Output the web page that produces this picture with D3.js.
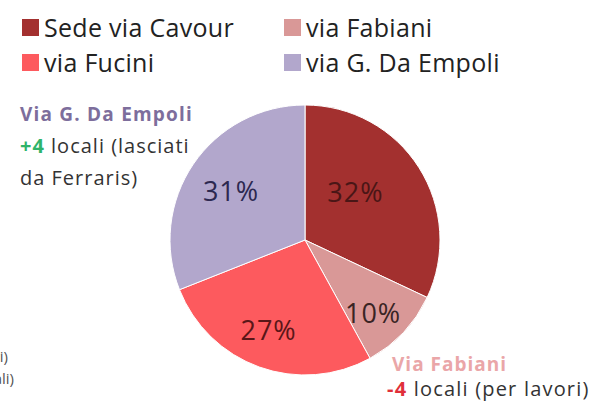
<!doctype html>
<head>
  <meta charset="utf-8">
  <title>Sedi</title>
  <script src="https://d3js.org/d3.v7.min.js"></script>
</head>
<style>
  body { margin: 0; background: #fff; }
  text { font-family: "Open Sans", "Noto Sans", sans-serif; }
</style>
<body>
<div id="chart"></div>
<script>
// data
var sedi = ["Sede via Cavour", "via Fabiani", "via Fucini", "via G. Da Empoli"];
var quote = [32, 10, 27, 31];
var colori = ["#a3302f", "#d99897", "#fd5a5e", "#b2a7cc"];
var coloriLabel = ["#4a1616", "#3a2424", "#5a1618", "#2c2850"];

var width = 597, height = 406;
var svg = d3.select("#chart").append("svg")
    .attr("width", width)
    .attr("height", height);

// legend
var legendPos = [[22, 19], [284, 19], [22, 54], [284, 54]];
var leg = svg.selectAll(".leg").data(sedi).enter().append("g")
    .attr("transform", function(d, i) { return "translate(" + legendPos[i][0] + "," + legendPos[i][1] + ")"; });
leg.append("rect").attr("width", 17).attr("height", 17)
    .attr("fill", function(d, i) { return colori[i]; });
leg.append("text").attr("x", 22).attr("y", 18)
    .style("font-size", "25px").style("letter-spacing", "0.3px").style("fill", "#222")
    .text(function(d) { return d; });

// pie
var cx = 305, cy = 240, r = 135;
var pie = d3.pie().sort(null).value(function(d) { return d; });
var arc = d3.arc().innerRadius(0).outerRadius(r);
var labelArc = d3.arc().innerRadius(r * 0.6).outerRadius(r * 0.6);
// small nudges of the percentage labels (best-fit placement in the original)
var spost = [[-18, -4], [9, 18], [-9, 14], [-7, -3]];
var g = svg.append("g").attr("transform", "translate(" + cx + "," + cy + ")");
var arcs = pie(quote);
g.selectAll("path").data(arcs).enter().append("path")
    .attr("d", arc)
    .attr("fill", function(d, i) { return colori[i]; })
    .attr("stroke", "#fff")
    .attr("stroke-width", 1);
g.selectAll(".pct").data(arcs).enter().append("text")
    .attr("transform", function(d, i) {
      var c = labelArc.centroid(d);
      return "translate(" + (c[0] + spost[i][0]) + "," + (c[1] + spost[i][1]) + ")";
    })
    .attr("text-anchor", "middle")
    .attr("dy", "0.35em")
    .style("font-size", "27px")
    .style("letter-spacing", "1px")
    .style("fill", function(d, i) { return coloriLabel[i]; })
    .text(function(d) { return d.data + "%"; });

// annotations
var ann1 = svg.append("text").style("font-size", "20px").style("letter-spacing", "1px").style("fill", "#333");
ann1.append("tspan").attr("x", 20).attr("y", 121)
    .style("font-size", "19px").style("font-weight", "bold").style("letter-spacing", "1.2px")
    .style("fill", "#7d6e9c").text("Via G. Da Empoli");
var l2 = ann1.append("tspan").attr("x", 20).attr("y", 153);
l2.append("tspan").style("fill", "#2fb36a").style("font-weight", "bold").text("+4");
l2.append("tspan").text(" locali (lasciati");
ann1.append("tspan").attr("x", 20).attr("y", 185).text("da Ferraris)");

var ann2 = svg.append("text").style("font-size", "20px").style("fill", "#333");
ann2.append("tspan").attr("x", 392).attr("y", 371)
    .style("font-size", "19px").style("font-weight", "bold").style("letter-spacing", "1px")
    .style("fill", "#eaa6a8").text("Via Fabiani");
var l4 = ann2.append("tspan").attr("x", 387).attr("y", 396).style("letter-spacing", "1.2px");
l4.append("tspan").style("fill", "#e0303a").style("font-weight", "bold").text("-4");
l4.append("tspan").text(" locali (per lavori)");

// text cut by the left edge of the slide
svg.append("text").attr("x", 8).attr("y", 362).attr("text-anchor", "end")
    .style("font-size", "15px").style("fill", "#555").text("lavori)");
svg.append("text").attr("x", 14).attr("y", 384).attr("text-anchor", "end")
    .style("font-size", "15px").style("fill", "#555").text("locali)");
</script>
</body>
